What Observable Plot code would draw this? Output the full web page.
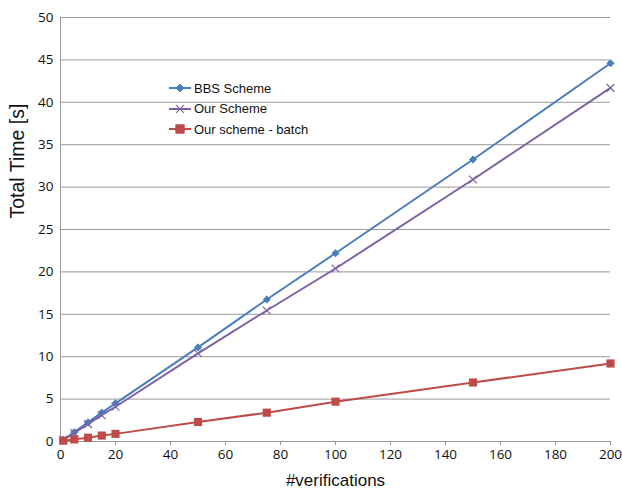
<!DOCTYPE html>
<html>
<head>
<meta charset="utf-8">
<script src="https://cdn.jsdelivr.net/npm/d3@7"></script>
<script src="https://cdn.jsdelivr.net/npm/@observablehq/plot@0.6"></script>
<style>
  html, body { margin: 0; padding: 0; background: #fff; }
  #wrap { position: relative; width: 622px; height: 491px; }
  #legend { position: absolute; left: 169px; top: 78px; font-family: "Liberation Sans", Arial, sans-serif; font-size: 13px; color: #111; }
  #legend .item { display: flex; align-items: center; height: 20.5px; }
  #legend svg { margin-right: 3px; }
</style>
</head>
<body>
<div id="wrap"><div id="legend"></div></div>
<script>
// Number of verifications
const verifications = [1, 5, 10, 15, 20, 50, 75, 100, 150, 200];
// Total time in seconds per scheme
const bbsScheme   = [0.2, 1.1, 2.25, 3.4, 4.5, 11.1, 16.75, 22.2, 33.25, 44.6];
const ourScheme   = [0.2, 1.0, 2.05, 3.1, 4.1, 10.4, 15.45, 20.4, 30.9, 41.7];
const ourBatch    = [0.1, 0.25, 0.45, 0.7, 0.9, 2.3, 3.4, 4.7, 6.96, 9.2];
const seriesNames = ["BBS Scheme", "Our Scheme", "Our scheme - batch"];
const seriesColors = ["#4a7ebb", "#7f62a6", "#be4b48"];
const xTicks = d3.range(0, 201, 20);
const yTicks = d3.range(0, 51, 5);

const rows = [bbsScheme, ourScheme, ourBatch].flatMap((vals, i) =>
  vals.map((v, j) => ({series: seriesNames[i], x: verifications[j], y: v}))
);
const bySeries = name => rows.filter(d => d.series === name);

const chart = Plot.plot({
  width: 622,
  height: 491,
  marginLeft: 60,
  marginRight: 12,
  marginTop: 17,
  marginBottom: 50,
  style: {fontFamily: "'Open Sans', 'Liberation Sans', sans-serif", fontSize: "13px", color: "#111"},
  x: {domain: [0, 200], ticks: xTicks, label: null},
  y: {domain: [0, 50], ticks: yTicks, label: null},
  color: {domain: seriesNames, range: seriesColors},
  marks: [
    Plot.gridY(yTicks, {stroke: "#9a9a9a", strokeOpacity: 1, strokeWidth: 1}),
    Plot.ruleX([0], {stroke: "#9a9a9a"}),
    Plot.ruleY([0], {stroke: "#9a9a9a"}),
    Plot.axisX({ticks: xTicks, tickSize: 4, tickPadding: 4, stroke: "#9a9a9a", fontSize: 13.5, label: null}),
    Plot.axisY({ticks: yTicks, tickSize: 0, tickPadding: 7, fontSize: 13.5, label: null}),
    Plot.lineY(rows, {x: "x", y: "y", z: "series", stroke: "series", strokeWidth: 2}),
    Plot.dot(bySeries("BBS Scheme"), {x: "x", y: "y", symbol: "diamond2", r: 3.2, fill: seriesColors[0], stroke: seriesColors[0], strokeWidth: 1}),
    Plot.dot(bySeries("Our Scheme"), {x: "x", y: "y", symbol: "times", r: 3.6, stroke: seriesColors[1], strokeWidth: 1.2}),
    Plot.dot(bySeries("Our scheme - batch"), {x: "x", y: "y", symbol: "square", r: 4.6, fill: seriesColors[2]}),
    Plot.text(["#verifications"], {frameAnchor: "bottom", dy: 44, fontSize: 17, fontFamily: "'Liberation Sans', Arial, sans-serif", fill: "#111"}),
    Plot.text(["Total Time [s]"], {frameAnchor: "left", dx: -43, dy: -11, rotate: -90, fontSize: 19.5, fontFamily: "'Liberation Sans', Arial, sans-serif", fill: "#111"})
  ]
});
document.getElementById("wrap").prepend(chart);

// Legend with line + marker swatches
const symbols = [d3.symbolDiamond2, d3.symbolTimes, d3.symbolSquare];
const sizes = [40, 40, 70];
const legend = d3.select("#legend");
seriesNames.forEach((name, i) => {
  const item = legend.append("div").attr("class", "item");
  const s = item.append("svg").attr("width", 22).attr("height", 12);
  s.append("line").attr("x1", 0).attr("x2", 22).attr("y1", 6).attr("y2", 6)
    .attr("stroke", seriesColors[i]).attr("stroke-width", 2);
  const p = s.append("path").attr("transform", "translate(11,6)")
    .attr("d", d3.symbol(symbols[i], sizes[i])());
  if (i === 1) p.attr("fill", "none").attr("stroke", seriesColors[i]).attr("stroke-width", 1.2);
  else p.attr("fill", seriesColors[i]).attr("stroke", seriesColors[i]);
  item.append("span").text(name);
});
</script>
</body>
</html>
